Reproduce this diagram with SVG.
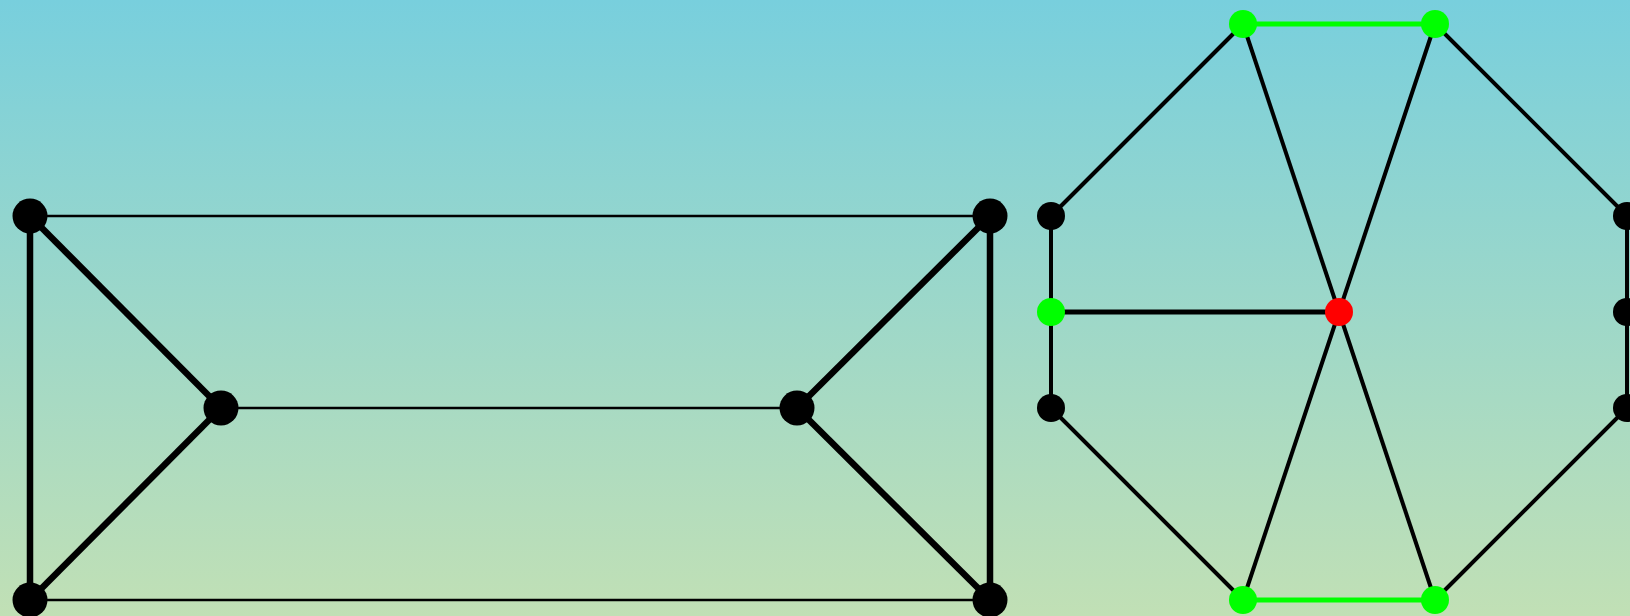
<svg xmlns="http://www.w3.org/2000/svg" width="1630" height="616" viewBox="0 0 1630 616">
<defs>
<linearGradient id="bg" x1="0" y1="0" x2="0" y2="1">
<stop offset="0" stop-color="#78cfdd"/>
<stop offset="1" stop-color="#c1e0b5"/>
</linearGradient>
<style>
.thin{stroke:#000;stroke-width:2.5}
.thick{stroke:#000;stroke-width:6.5}
.med{stroke:#000;stroke-width:4}
.mid{stroke:#000;stroke-width:5}
.grn{stroke:#00ff00;stroke-width:5}
.bn{fill:#000}
.gn{fill:#00ff00}
.rn{fill:#ff0000}
</style>
</defs>
<rect width="1630" height="616" fill="url(#bg)"/>
<g id="connectors">
<line class="thin" x1="30" y1="216" x2="990" y2="216"/>
<line class="thin" x1="221" y1="408" x2="797" y2="408"/>
<line class="thin" x1="30" y1="600" x2="990" y2="600"/>
<line class="thick" x1="30" y1="216" x2="30" y2="600"/>
<line class="thick" x1="30" y1="216" x2="221" y2="408"/>
<line class="thick" x1="30" y1="600" x2="221" y2="408"/>
<line class="thick" x1="797" y1="408" x2="990" y2="216"/>
<line class="thick" x1="797" y1="408" x2="990" y2="600"/>
<line class="thick" x1="990" y1="216" x2="990" y2="600"/>
<line class="grn" x1="1243" y1="24" x2="1435" y2="24"/>
<line class="grn" x1="1243" y1="600" x2="1435" y2="600"/>
<line class="med" x1="1243" y1="24" x2="1051" y2="216"/>
<line class="med" x1="1243" y1="24" x2="1339" y2="312"/>
<line class="med" x1="1435" y1="24" x2="1339" y2="312"/>
<line class="med" x1="1435" y1="24" x2="1627" y2="216"/>
<line class="med" x1="1051" y1="216" x2="1051" y2="408"/>
<line class="mid" x1="1051" y1="312" x2="1339" y2="312"/>
<line class="med" x1="1051" y1="408" x2="1243" y2="600"/>
<line class="med" x1="1243" y1="600" x2="1339" y2="312"/>
<line class="med" x1="1435" y1="600" x2="1339" y2="312"/>
<line class="med" x1="1435" y1="600" x2="1627" y2="408"/>
<line class="med" x1="1627" y1="216" x2="1627" y2="408"/>
</g>
<g id="n1"><circle class="bn" cx="30" cy="216" r="17.5"/></g>
<g id="n2"><circle class="bn" cx="990" cy="216" r="17.5"/></g>
<g id="n3"><circle class="bn" cx="221" cy="408" r="17.5"/></g>
<g id="n4"><circle class="bn" cx="797" cy="408" r="17.5"/></g>
<g id="n5"><circle class="bn" cx="30" cy="600" r="17.5"/></g>
<g id="n6"><circle class="bn" cx="990" cy="600" r="17.5"/></g>
<g id="m1"><circle class="gn" cx="1243" cy="24" r="14"/></g>
<g id="m2"><circle class="gn" cx="1435" cy="24" r="14"/></g>
<g id="m3"><circle class="bn" cx="1051" cy="216" r="14"/></g>
<g id="m4"><circle class="gn" cx="1051" cy="312" r="14"/></g>
<g id="m5"><circle class="bn" cx="1051" cy="408" r="14"/></g>
<g id="m6"><circle class="rn" cx="1339" cy="312" r="14"/></g>
<g id="m7"><circle class="gn" cx="1243" cy="600" r="14"/></g>
<g id="m8"><circle class="gn" cx="1435" cy="600" r="14"/></g>
<g id="m9"><circle class="bn" cx="1627" cy="216" r="14"/></g>
<g id="m10"><circle class="bn" cx="1627" cy="312" r="14"/></g>
<g id="m11"><circle class="bn" cx="1627" cy="408" r="14"/></g>
</svg>
